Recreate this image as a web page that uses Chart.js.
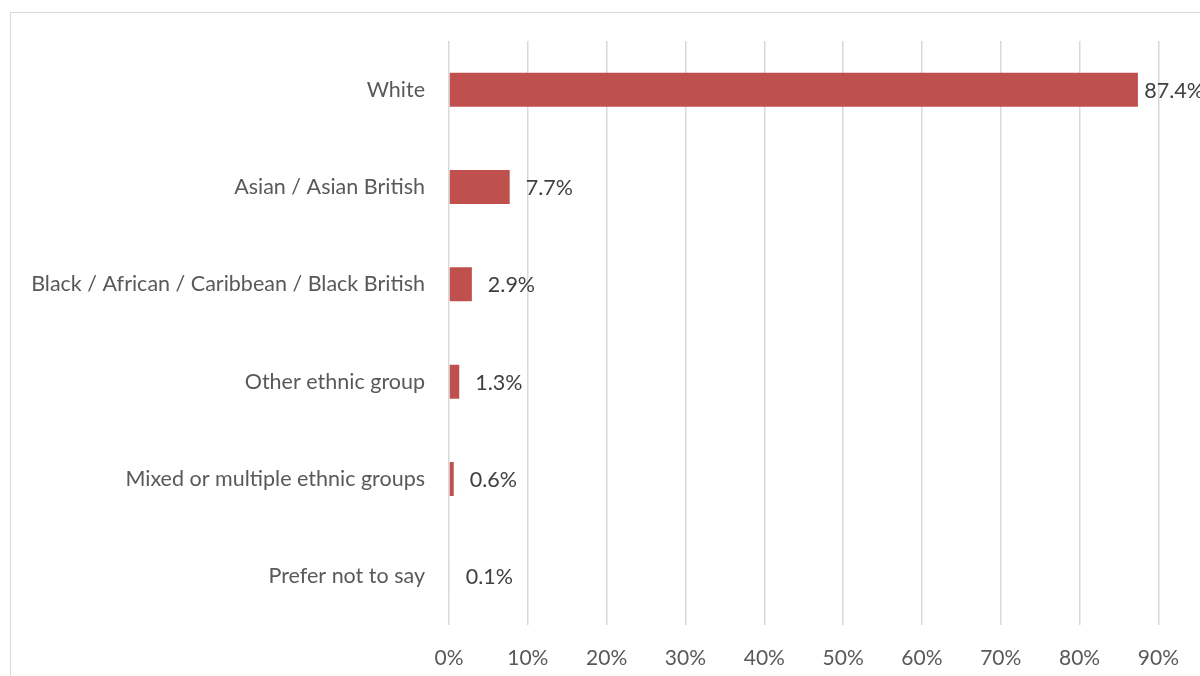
<!DOCTYPE html>
<html>
<head>
<meta charset="utf-8">
<script src="https://cdn.jsdelivr.net/npm/chart.js@4/dist/chart.umd.min.js"></script>
<style>
  html, body { margin: 0; padding: 0; background: #fff; overflow: hidden; }
  #frame {
    position: absolute; left: 10px; top: 12px;
    width: 1400px; height: 900px;
    border: 1.5px solid #d9d9d9; box-sizing: border-box;
  }
  #wrap { position: absolute; left: 0; top: 0; width: 1200px; height: 676px; }
</style>
</head>
<body>
<div id="frame"></div>
<div id="wrap"><canvas id="chart" width="1200" height="676"></canvas></div>
<script>
// Ethnic groups, share of respondents (%)
const groups = [
  "White",
  "Asian / Asian British",
  "Black / African / Caribbean / Black British",
  "Other ethnic group",
  "Mixed or multiple ethnic groups",
  "Prefer not to say",
];
const shares = [87.4, 7.7, 2.9, 1.3, 0.6, 0.1];
const xTicks = [0, 10, 20, 30, 40, 50, 60, 70, 80, 90];

const FONT = "Lato, 'Open Sans', sans-serif";

// value labels to the right of each bar; the last one may run off the edge
const valueLabels = {
  id: "valueLabels",
  afterDatasetsDraw(chart) {
    const ctx = chart.ctx;
    const meta = chart.getDatasetMeta(0);
    ctx.save();
    ctx.font = "21.5px " + FONT;
    ctx.fillStyle = "#404040";
    ctx.textBaseline = "middle";
    ctx.textAlign = "left";
    meta.data.forEach((bar, i) => {
      const text = shares[i].toFixed(1) + "%";
      const w = ctx.measureText(text).width;
      let x = bar.x + 16;
      if (x + w > chart.width + 4) x = Math.max(bar.x + 5, chart.width + 4 - w);
      ctx.fillText(text, x, bar.y + 1);
    });
    ctx.restore();
  },
};

new Chart(document.getElementById("chart"), {
  type: "bar",
  data: {
    labels: groups,
    datasets: [
      {
        data: shares,
        backgroundColor: "#c0504d",
        borderWidth: 0,
        barPercentage: 0.35,
        categoryPercentage: 1,
      },
    ],
  },
  options: {
    indexAxis: "y",
    responsive: false,
    animation: false,
    layout: { padding: { top: 41, right: 38, left: 0, bottom: 0 } },
    plugins: { legend: { display: false }, tooltip: { enabled: false } },
    scales: {
      x: {
        min: 0,
        max: 90,
        afterBuildTicks: (scale) => {
          scale.ticks = xTicks.map((v) => ({ value: v }));
        },
        afterFit: (scale) => {
          scale.height = 51;
        },
        grid: { color: "#d9d9d9", lineWidth: 1.5, drawTicks: false },
        border: { display: false },
        ticks: {
          padding: 21,
          color: "#595959",
          font: { family: FONT, size: 21 },
          callback: (v) => v + "%",
        },
      },
      y: {
        afterFit: (scale) => {
          scale.width = 449;
        },
        grid: { display: false, drawTicks: false },
        border: { display: false },
        ticks: {
          padding: 24,
          color: "#595959",
          font: { family: FONT, size: 21.5 },
        },
      },
    },
  },
  plugins: [valueLabels],
});
</script>
</body>
</html>
